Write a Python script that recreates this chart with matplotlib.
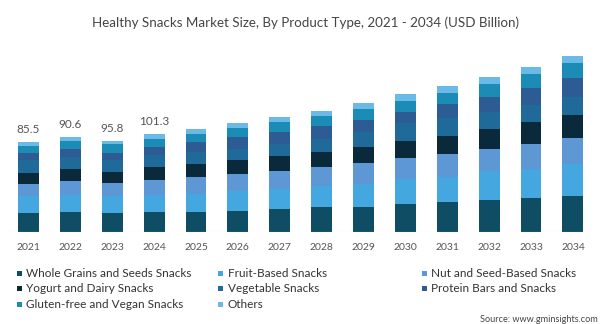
import matplotlib
matplotlib.use("Agg")
import matplotlib.pyplot as plt
from matplotlib.patches import Rectangle
import numpy as np

plt.rcParams['font.family'] = ['Lato', 'DejaVu Sans']

years = ["2021", "2022", "2023", "2024", "2025", "2026", "2027", "2028",
         "2029", "2030", "2031", "2032", "2033", "2034"]

whole_grains = [18.4, 19.3, 18.3, 20.0, 20.0, 21.0, 22.7, 24.3, 25.0, 27.7, 29.3, 31.3, 33.3, 35.7]
fruit_based  = [17.3, 17.3, 17.3, 16.7, 17.7, 20.0, 20.0, 21.7, 22.7, 24.7, 25.7, 29.3, 29.0, 32.0]
nut_seed     = [12.0, 14.0, 12.7, 15.0, 16.7, 16.7, 17.7, 18.3, 20.7, 21.0, 22.7, 22.3, 25.3, 26.3]
yogurt_dairy = [11.3, 11.7, 11.7, 12.7, 13.3, 14.0, 15.7, 15.7, 16.7, 17.7, 18.3, 20.3, 21.7, 22.7]
vegetable    = [12.7, 12.7, 11.7, 12.3, 11.7, 11.0, 11.7, 12.7, 14.3, 17.3, 17.3, 16.7, 17.3, 18.3]
protein_bars = [6.7, 7.3, 6.7, 8.3, 10.0, 11.7, 12.3, 13.3, 12.3, 11.7, 14.3, 15.0, 16.7, 19.0]
gluten_vegan = [7.3, 8.7, 9.0, 7.7, 8.3, 9.3, 10.0, 10.0, 11.0, 11.0, 11.3, 12.7, 14.3, 14.3]
others       = [4.3, 4.0, 3.3, 5.0, 5.0, 4.7, 5.0, 5.0, 5.7, 6.7, 7.0, 7.3, 7.3, 7.7]

label_values = [85.5, 90.6, 95.8, 101.3]

series_names = ["Whole Grains and Seeds Snacks", "Fruit-Based Snacks", "Nut and Seed-Based Snacks",
                "Yogurt and Dairy Snacks", "Vegetable Snacks", "Protein Bars and Snacks",
                "Gluten-free and Vegan Snacks", "Others"]
series = [whole_grains, fruit_based, nut_seed, yogurt_dairy, vegetable, protein_bars, gluten_vegan, others]
colors = ["#0e4d64", "#45a7df", "#5d98d5", "#0a2a3c", "#1f6a98", "#2d5b94", "#1b8cb6", "#6ab9e6"]

W, H = 601, 324
fig = plt.figure(figsize=(W / 100, H / 100), dpi=100)

# axes placement in pixel terms
left_px, right_px = 8, 593
base_px, top_px = 231.7, 50
ax = fig.add_axes([left_px / W, (H - base_px) / H, (right_px - left_px) / W, (base_px - top_px) / H])
ax.set_xlim(-0.49, 13.48)
ax.set_ylim(0, base_px - top_px)

x = np.arange(len(years))
bottom = np.zeros(len(years))
for vals, c in zip(series, colors):
    v = np.array(vals)
    ax.bar(x, v, bottom=bottom, width=0.5, color=c, linewidth=0)
    bottom += v

for i, lv in enumerate(label_values):
    ax.text(x[i], bottom[i] + 7, f"{lv}", ha="center", va="bottom", fontsize=8.5, color="#555555")

ax.axhline(0, color="#e6e6e6", linewidth=0.8)
for s in ax.spines.values():
    s.set_visible(False)
ax.set_yticks([])
ax.set_xticks(x)
ax.set_xticklabels(years, fontsize=7.5, color="#555555")
ax.tick_params(axis="x", length=0, pad=8)

fig.text(305 / W, 1 - 22.7 / H, "Healthy Snacks Market Size, By Product Type, 2021 - 2034 (USD Billion)",
         ha="center", va="center", fontsize=9.6, color="#444444")

# legend, row-wise order
col_x = [17, 218, 421.7]
row_y = [273.7, 288.7, 304.7]
for k, (name, c) in enumerate(zip(series_names, colors)):
    r, col = divmod(k, 3)
    mx, my = col_x[col], row_y[r]
    fig.patches.append(Rectangle((mx / W, 1 - (my + 2.7) / H), 5.4 / W, 5.4 / H,
                                 transform=fig.transFigure, color=c, linewidth=0))
    fig.text((mx + 9.5) / W, 1 - my / H, name, ha="left", va="center", fontsize=8.5, color="#333333")

fig.text(598 / W, 1 - 319 / H, "Source: www.gminsights.com", ha="right", va="center",
         fontsize=6.6, color="#444444")

fig.savefig("out.png", dpi=100)
